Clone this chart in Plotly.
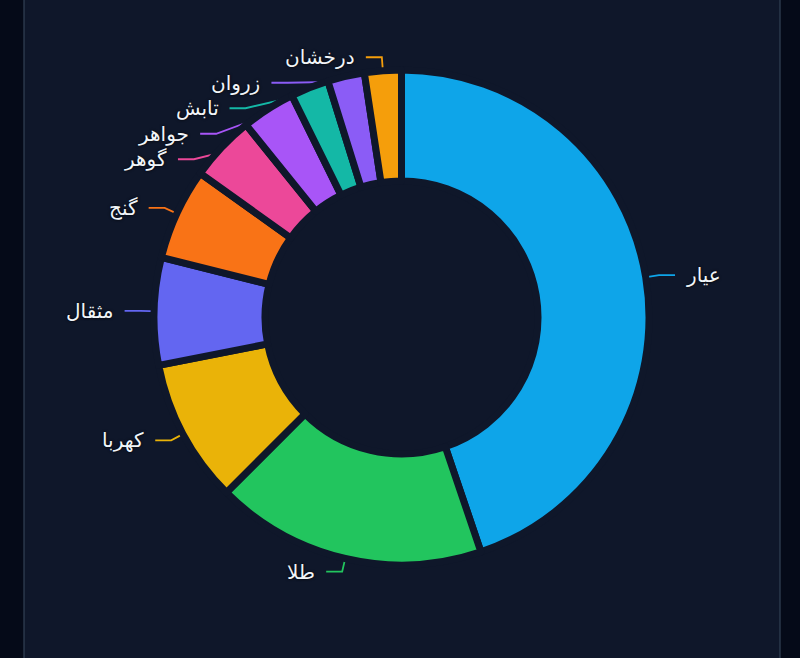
import math
import plotly.graph_objects as go

# Data (clockwise from 12 o'clock)
labels = ['عیار', 'طلا', 'کهربا', 'مثقال', 'گنج', 'گوهر', 'جواهر', 'تابش', 'زروان', 'درخشان']
values = [448, 177, 94, 70, 60, 43, 35, 25, 24, 24]
colors = ['#0ea5e9', '#22c55e', '#eab308', '#6366f1', '#f97316',
          '#ec4899', '#a855f7', '#14b8a6', '#8b5cf6', '#f59e0b']

W, H = 800, 658
BG_OUT = '#050a18'
BG = '#0f172a'

# pie geometry in pixels
cx, cy = 401.5, 317.5
R = 244          # visible outer radius
R_in = 140       # visible inner radius
gap_w = 7        # slice separation
Rd = R + gap_w / 2
hole = (R_in - gap_w / 2) / Rd

fig = go.Figure()
fig.add_trace(go.Pie(
    labels=labels, values=values,
    sort=False, direction='clockwise', rotation=0,
    hole=hole,
    marker=dict(colors=colors, line=dict(color=BG, width=gap_w)),
    textinfo='none', hoverinfo='label+value+percent',
    showlegend=False,
    domain=dict(x=[(cx - Rd) / W, (cx + Rd) / W],
                y=[(H - cy - Rd) / H, (H - cy + Rd) / H]),
))

# label layout (radial line, then horizontal line), labels pushed apart on each side
r1, len2, txt_gap, step = 261, 16, 9, 25.5
total = sum(values)
items = []
start = 0.0
for lab, v, col in zip(labels, values, colors):
    sweep = v / total * 360
    mid = math.radians(start + sweep / 2)
    start += sweep
    items.append(dict(label=lab, color=col,
                      s=math.sin(mid), c=math.cos(mid),
                      y=cy - r1 * math.cos(mid)))

for side in (-1, 1):
    group = sorted([it for it in items if (it['s'] < 0) == (side < 0)], key=lambda it: it['y'])
    last = None
    for it in group:
        if last is not None and it['y'] < last + step:
            it['y'] = last + step
        last = it['y']
    for it in group:
        dy = it['y'] - cy
        it['x1'] = cx + side * math.sqrt(max(r1 ** 2 - dy ** 2, 0))
        it['x2'] = it['x1'] + side * len2
        it['side'] = side


def px(x):
    return x / W


def py(y):
    return 1 - y / H


shapes = [dict(type='rect', xref='paper', yref='paper',
               x0=px(24), x1=px(780), y0=-0.02, y1=1.02,
               fillcolor=BG, line=dict(color='#334155', width=1.2), layer='below')]
annotations = []
for it in items:
    x0 = cx + (R - 2) * it['s']
    y0 = cy - (R - 2) * it['c']
    path = 'M {:.5f},{:.5f} L {:.5f},{:.5f} L {:.5f},{:.5f}'.format(
        px(x0), py(y0), px(it['x1']), py(it['y']), px(it['x2']), py(it['y']))
    shapes.append(dict(type='path', xref='paper', yref='paper', path=path,
                       line=dict(color=it['color'], width=1.8), layer='below'))
    annotations.append(dict(
        x=px(it['x2'] + it['side'] * txt_gap), y=py(it['y']),
        xref='paper', yref='paper', showarrow=False,
        text=it['label'],
        xanchor='left' if it['side'] > 0 else 'right', yanchor='middle',
        font=dict(size=20, color='#f1f5f9', family='DejaVu Sans, Noto Sans, sans-serif',
                  shadow='0px 0px 3px #000000'),
    ))

fig.update_layout(
    width=W, height=H,
    margin=dict(l=0, r=0, t=0, b=0),
    paper_bgcolor=BG_OUT,
    plot_bgcolor=BG_OUT,
    shapes=shapes,
    annotations=annotations,
)

fig.write_html("out.html", config={'displayModeBar': False},
               post_script="document.body.style.margin='0';")
